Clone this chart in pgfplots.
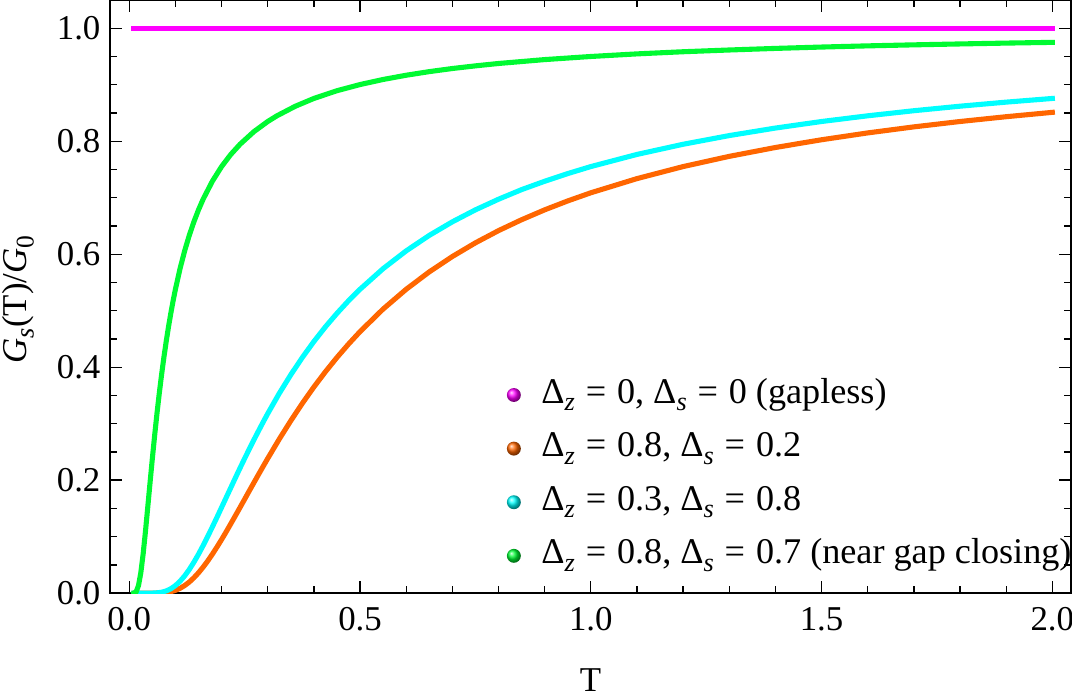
\documentclass[border=0pt]{standalone}
\usepackage{fontspec}
\setmainfont{Liberation Serif}
\usepackage{pgfplots}
\pgfplotsset{compat=1.18}
\usetikzlibrary{shadings}
\definecolor{cMag}{RGB}{255,0,255}
\definecolor{cOra}{RGB}{255,102,0}
\definecolor{cCya}{RGB}{0,255,255}
\definecolor{cGre}{RGB}{0,250,50}
\newcommand{\sub}[1]{\raisebox{-0.45ex}{\fontsize{9.8}{9.8}\selectfont\itshape #1}}
\newcommand{\subr}[1]{\raisebox{-0.45ex}{\fontsize{9.5}{9.5}\selectfont #1}}
\newcommand{\eq}{\hspace{0.3em}=\hspace{0.3em}}
\pgfplotsset{ballimg/.style={legend image code/.code={\shade[draw=none, ball color=#1] (0pt,-0.6pt) circle (2.6pt); \path[draw=none] (-2.6pt,-0.6pt) -- (8.3pt,-0.6pt);}}}
\begin{document}
\begin{tikzpicture}
\begin{axis}[
  scale only axis, width=358.6pt, height=221.3pt,
  xmin=-0.042, xmax=2.0405, ymin=0, ymax=1.05,
  xtick={0,0.5,1,1.5,2}, minor x tick num=4,
  ytick={0,0.2,0.4,0.6,0.8,1}, minor y tick num=3,
  tick align=inside,
  major tick length=4.5pt, minor tick length=2.6pt,
  every tick/.style={black, line width=0.5pt},
  axis line style={line width=0.5pt},
  /pgf/number format/assume math mode=true,
  xticklabel style={/pgf/number format/fixed, /pgf/number format/fixed zerofill, /pgf/number format/precision=1, yshift=-1.7pt},
  yticklabel style={/pgf/number format/fixed, /pgf/number format/fixed zerofill, /pgf/number format/precision=1},
  tick label style={font=\fontsize{13}{15}\selectfont},
  label style={font=\fontsize{13}{15}\selectfont},
  xlabel={T},
  xlabel style={at={(axis description cs:0.5,-0.111)}, anchor=north},
  ylabel={\textit{G}\sub{s}(T)/\textit{G}\subr{0}},
  ylabel style={at={(axis description cs:-0.0692,0.495)}, anchor=south},
  every axis plot/.append style={line width=1.9pt, line cap=rect},
  legend cell align=left,
  legend style={draw=none, fill=none, at={(rel axis cs:1.015,0.0105)}, anchor=south east,
    font=\fontsize{13.5}{15}\selectfont, row sep=0pt,
    nodes={inner sep=2pt, text height=11.6pt, text depth=4.4pt}},
]
\addplot[cMag, ballimg=cMag] coordinates {(0.01,1) (2,1)};
\addlegendentry{Δ\sub{z}\eq 0, Δ\sub{s}\eq 0 (gapless)}
\addplot[cOra, ballimg=cOra] coordinates {
(0.01,0) (0.05,0) (0.07,0.0004) (0.08,0.0011) (0.09,0.0025) (0.10,0.0050) (0.11,0.0085) (0.12,0.0134) (0.13,0.0196) (0.14,0.0272) (0.15,0.0360) (0.16,0.0460) (0.17,0.0570) (0.18,0.0689) (0.19,0.0816) (0.20,0.0948) (0.21,0.1086) (0.22,0.1228) (0.23,0.1372) (0.24,0.1517) (0.25,0.1663) (0.26,0.1810) (0.27,0.1955) (0.28,0.2100) (0.29,0.2243) (0.30,0.2384) (0.325,0.2727) (0.35,0.3052) (0.375,0.3360) (0.40,0.3649) (0.425,0.3919) (0.45,0.4172) (0.475,0.4408) (0.50,0.4629) (0.55,0.5029) (0.60,0.5379) (0.65,0.5687) (0.70,0.5959) (0.75,0.6201) (0.80,0.6417) (0.85,0.6610) (0.90,0.6785) (0.95,0.6943) (1.0,0.7087) (1.1,0.7338) (1.2,0.7551) (1.3,0.7732) (1.4,0.7889) (1.5,0.8026) (1.6,0.8147) (1.7,0.8254) (1.8,0.8349) (1.9,0.8434) (2.0,0.8511)};
\addlegendentry{Δ\sub{z}\eq 0.8, Δ\sub{s}\eq 0.2}
\addplot[cCya, ballimg=cCya] coordinates {
(0.01,0) (0.03,0) (0.05,0.0001) (0.06,0.0005) (0.07,0.0016) (0.08,0.0039) (0.09,0.0077) (0.10,0.0134) (0.11,0.0210) (0.12,0.0305) (0.13,0.0418) (0.14,0.0547) (0.15,0.0689) (0.16,0.0842) (0.17,0.1003) (0.18,0.1171) (0.19,0.1342) (0.20,0.1517) (0.21,0.1692) (0.22,0.1867) (0.23,0.2042) (0.24,0.2215) (0.25,0.2384) (0.26,0.2550) (0.27,0.2713) (0.28,0.2871) (0.29,0.3027) (0.30,0.3178) (0.325,0.3536) (0.35,0.3866) (0.375,0.4172) (0.40,0.4454) (0.425,0.4714) (0.45,0.4953) (0.475,0.5175) (0.50,0.5379) (0.55,0.5744) (0.60,0.6059) (0.65,0.6333) (0.70,0.6573) (0.75,0.6785) (0.80,0.6973) (0.85,0.7143) (0.90,0.7291) (0.95,0.7427) (1.0,0.7551) (1.1,0.7766) (1.2,0.7946) (1.3,0.8100) (1.4,0.8233) (1.5,0.8349) (1.6,0.8450) (1.7,0.8540) (1.8,0.8620) (1.9,0.8692) (2.0,0.8757)};
\addlegendentry{Δ\sub{z}\eq 0.3, Δ\sub{s}\eq 0.8}
\addplot[cGre, ballimg=cGre] coordinates {
(0.01,0.0001) (0.015,0.0025) (0.02,0.0134) (0.025,0.0360) (0.03,0.0689) (0.035,0.1086) (0.04,0.1517) (0.045,0.1955) (0.05,0.2384) (0.055,0.2793) (0.06,0.3178) (0.065,0.3536) (0.07,0.3866) (0.075,0.4172) (0.08,0.4454) (0.085,0.4714) (0.09,0.4953) (0.095,0.5175) (0.10,0.5379) (0.11,0.5744) (0.12,0.6059) (0.13,0.6333) (0.14,0.6573) (0.15,0.6785) (0.16,0.6973) (0.18,0.7291) (0.20,0.7551) (0.22,0.7766) (0.24,0.7946) (0.27,0.8169) (0.30,0.8349) (0.32,0.8450) (0.36,0.8620) (0.40,0.8757) (0.45,0.8894) (0.50,0.9003) (0.55,0.9093) (0.60,0.9168) (0.65,0.9232) (0.70,0.9287) (0.75,0.9334) (0.80,0.9376) (0.90,0.9445) (1.0,0.9500) (1.1,0.9546) (1.2,0.9584) (1.3,0.9615) (1.4,0.9643) (1.5,0.9667) (1.6,0.9688) (1.7,0.9706) (1.8,0.9722) (1.9,0.9737) (2.0,0.9750)};
\addlegendentry{Δ\sub{z}\eq 0.8, Δ\sub{s}\eq 0.7 (near gap closing)}
\end{axis}
\pgfresetboundingbox
\path (current axis.south west) ++(-41pt,-38.2pt) coordinate (bbA);
\path (current axis.north east) ++(0.37pt,0pt) coordinate (bbB);
\path (bbA) rectangle (bbB);
\end{tikzpicture}
\end{document}
